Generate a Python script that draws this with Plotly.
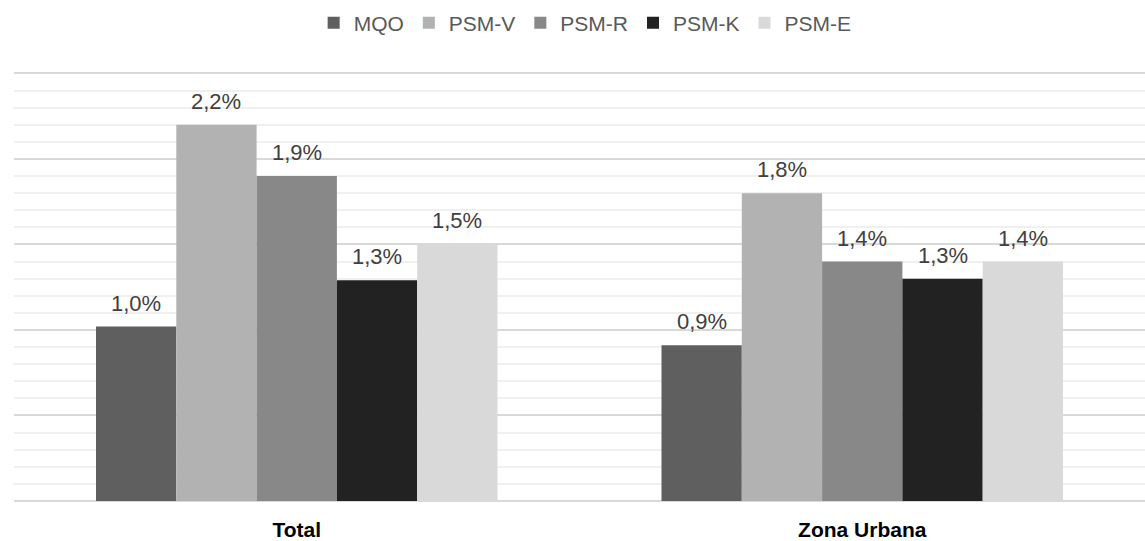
import plotly.graph_objects as go

# Grouped bars: growth estimates by method, national total vs. urban area
categories = ["Total", "Zona Urbana"]
series_names = ["MQO", "PSM-V", "PSM-R", "PSM-K", "PSM-E"]
mqo = [1.02, 0.91]
psm_v = [2.20, 1.80]
psm_r = [1.90, 1.40]
psm_k = [1.29, 1.30]
psm_e = [1.50, 1.40]
series_values = [mqo, psm_v, psm_r, psm_k, psm_e]
series_colors = ["#5f5f5f", "#b2b2b2", "#888888", "#222222", "#d9d9d9"]

FONT = "Liberation Sans, Arial, sans-serif"
BARGAP = 0.29

fig = go.Figure()
for name, vals, color in zip(series_names, series_values, series_colors):
    fig.add_trace(go.Bar(
        name=name, x=categories, y=vals,
        marker=dict(color=color, line=dict(width=0)),
        hoverinfo="skip",
    ))

# Value labels above each bar, placed at the bar centre of its group slot
n = len(series_names)
bar_w = (1 - BARGAP) / n
for i, vals in enumerate(series_values):
    for ci, v in enumerate(vals):
        fig.add_annotation(
            x=ci + (i - (n - 1) / 2) * bar_w, y=v,
            xref="x", yref="y",
            text=f"{v:.1f}".replace(".", ",") + "%",
            showarrow=False, yanchor="bottom", yshift=9,
            font=dict(family=FONT, size=22, color="#404040"),
        )

fig.update_layout(
    width=1145, height=541,
    margin=dict(l=14, r=0, t=70, b=40),
    paper_bgcolor="white", plot_bgcolor="white",
    barmode="group", bargap=BARGAP, bargroupgap=0,
    font=dict(family=FONT),
    legend=dict(
        orientation="h", x=0.505, xanchor="center",
        y=1.109, yanchor="middle",
        font=dict(family=FONT, size=21, color="#595959"),
        bgcolor="rgba(0,0,0,0)",
    ),
    xaxis=dict(
        type="category", showgrid=False, zeroline=False, showline=False,
        ticks="", ticklabelstandoff=14,
        tickfont=dict(family=FONT, size=21, color="#000000", weight="bold"),
    ),
    yaxis=dict(
        range=[0, 2.52], dtick=0.5, showticklabels=False, ticks="",
        showgrid=True, gridcolor="#d9d9d9", gridwidth=1.5,
        zeroline=True, zerolinecolor="#d9d9d9", zerolinewidth=1.5,
        showline=False,
        minor=dict(dtick=0.1, showgrid=True, gridcolor="#f0f0f0", gridwidth=1.5),
    ),
)

fig.write_html("out.html")
